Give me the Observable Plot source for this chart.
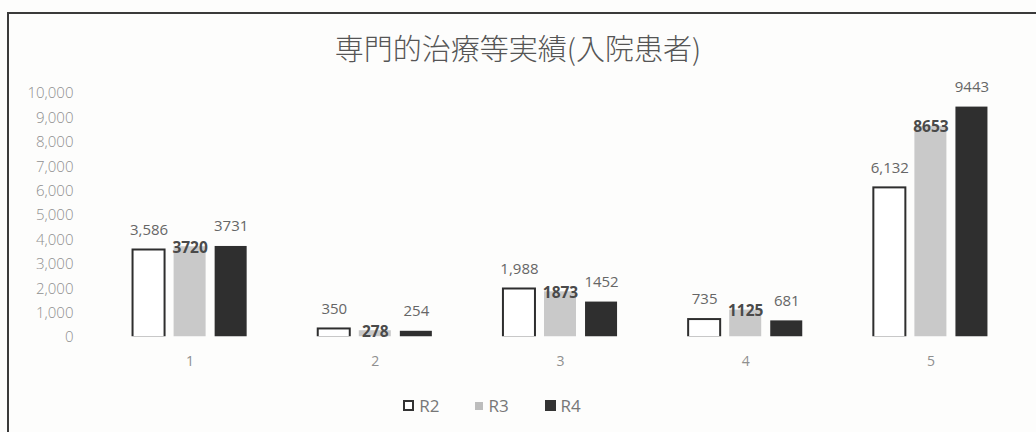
<!DOCTYPE html>
<html>
<head>
<meta charset="utf-8">
<script src="https://cdn.jsdelivr.net/npm/d3@7"></script>
<script src="https://cdn.jsdelivr.net/npm/@observablehq/plot@0.6"></script>
<style>
  html, body { margin: 0; padding: 0; background: #fdfdfc; }
  #wrap { position: relative; width: 1036px; height: 432px; overflow: hidden; font-family: "Open Sans", "Noto Sans", sans-serif; }
  #frame { position: absolute; left: 7px; top: 12px; width: 1100px; height: 500px; border-left: 2px solid #3a3a3a; border-top: 2px solid #3a3a3a; }
  #title { position: absolute; left: 0; width: 1036px; top: 27px; text-align: center; font-family: "Noto Sans CJK JP", sans-serif; font-size: 29px; color: #555; line-height: 40px; font-weight: 300; }
  #chart { position: absolute; left: 0; top: 0; }
  #legend { position: absolute; top: 394px; left: -26px; width: 1036px; display: flex; justify-content: center; gap: 36px; font-size: 17px; color: #777; font-family: "Open Sans", sans-serif; }
  .item { display: flex; align-items: center; gap: 5px; }
  .sw { display: inline-block; }
</style>
</head>
<body>
<div id="wrap">
  <div id="frame"></div>
  <div id="title">専門的治療等実績(入院患者)</div>
  <div id="chart"></div>
  <div id="legend"></div>
</div>
<script>
const categories = ["1", "2", "3", "4", "5"];
const seriesNames = ["R2", "R3", "R4"];
const r2Values = [3586, 350, 1988, 735, 6132];
const r3Values = [3720, 278, 1873, 1125, 8653];
const r4Values = [3731, 254, 1452, 681, 9443];
const yTicks = [0, 1000, 2000, 3000, 4000, 5000, 6000, 7000, 8000, 9000, 10000];

const colors = {R2: "#ffffff", R3: "#c9c9c9", R4: "#2f2f2f"};
const valuesBySeries = {R2: r2Values, R3: r3Values, R4: r4Values};

const rows = [];
categories.forEach((c, i) => {
  seriesNames.forEach(s => rows.push({cat: c, series: s, value: valuesBySeries[s][i]}));
});
const rowsR2 = rows.filter(d => d.series === "R2");
const rowsR3 = rows.filter(d => d.series === "R3");
const rowsR4 = rows.filter(d => d.series === "R4");

const chart = Plot.plot({
  width: 1036,
  height: 390,
  marginLeft: 97,
  marginRight: 13,
  marginTop: 93,
  marginBottom: 53,
  style: {background: "transparent", fontFamily: "Open Sans, sans-serif"},
  fx: {domain: categories, padding: 0, round: false, label: null},
  x: {domain: seriesNames, paddingInner: 0.22, paddingOuter: 0.866, round: false, axis: null},
  y: {domain: [0, 10000], axis: null},
  marks: [
    Plot.barY(rowsR2, {fx: "cat", x: "series", y: "value", fill: "#ffffff", stroke: "#2e2e2e", strokeWidth: 2}),
    Plot.barY(rowsR3, {fx: "cat", x: "series", y: "value", fill: colors.R3}),
    Plot.barY(rowsR4, {fx: "cat", x: "series", y: "value", fill: colors.R4}),
    Plot.ruleY([0], {stroke: "#fdfdfc", strokeWidth: 2.5}),
    Plot.text(rowsR2, {fx: "cat", x: "series", y: "value", text: d => d3.format(",")(d.value), dy: -20, fontSize: 15, fill: "#666"}),
    Plot.text(rowsR3, {fx: "cat", x: "series", y: "value", text: d => String(d.value), dy: 1, fontSize: 15.5, fontWeight: "bold", fill: "#4a4a4a"}),
    Plot.text(rowsR4, {fx: "cat", x: "series", y: "value", text: d => String(d.value), dy: -20, fontSize: 15, fill: "#666"}),
    Plot.axisY(yTicks, {anchor: "left", tickSize: 0, tickPadding: 24, tickFormat: d3.format(","), fontSize: 15, fill: "#8f8f8f", fontWeight: 300, label: null}),
    Plot.axisFx({anchor: "bottom", tickSize: 0, tickPadding: 19, fontSize: 14, fill: "#8f8f8f", label: null})
  ]
});
document.getElementById("chart").appendChild(chart);

const legend = document.getElementById("legend");
const swatchStyles = {
  R2: "width:11px;height:11px;background:#fff;border:2px solid #333;box-sizing:border-box;",
  R3: "width:8px;height:8px;background:#bdbdbd;",
  R4: "width:11px;height:11px;background:#333;"
};
seriesNames.forEach(s => {
  const it = document.createElement("div");
  it.className = "item";
  const sw = document.createElement("span");
  sw.className = "sw";
  sw.style.cssText = swatchStyles[s];
  const t = document.createElement("span");
  t.textContent = s;
  it.appendChild(sw);
  it.appendChild(t);
  legend.appendChild(it);
});
</script>
</body>
</html>
